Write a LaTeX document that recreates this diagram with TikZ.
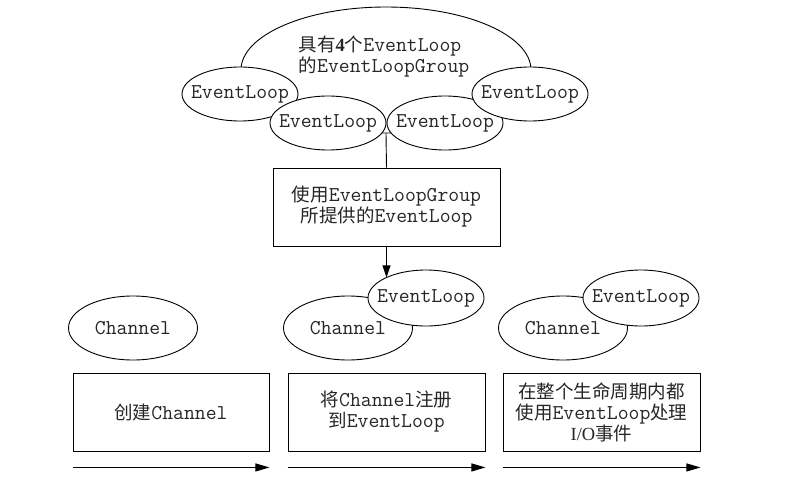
\documentclass[tikz,border=0pt]{standalone}
\usepackage{fontspec}
\setmainfont{Liberation Serif}
\setmonofont[Scale=1.14]{Latin Modern Mono}
\newfontfamily\cjk{Noto Sans CJK SC}
\usepackage{tikz}
\usetikzlibrary{shapes.geometric, arrows.meta, positioning}
\newcommand{\zh}[1]{{\cjk #1}}

\begin{document}
\begin{tikzpicture}[x=1pt, y=-1pt, line width=0.9pt,
    font=\fontsize{18.5}{21}\selectfont\ttfamily, text=black!85,
    el/.style={ellipse, draw, fill=white, inner sep=0pt, minimum width=116pt, minimum height=54pt, label=center:{#1}},
    ch/.style={ellipse, draw, fill=white, inner sep=0pt, minimum width=129pt, minimum height=64pt, label=center:{#1}},
    box/.style={rectangle, draw, align=center, minimum width=197pt, minimum height=78pt},
    flow/.style={-{Triangle[length=14pt, width=8pt]}}]
   \useasboundingbox (0,0) rectangle (798,477);

   % EventLoopGroup
   \node[ellipse, draw, minimum width=290pt, minimum height=126pt] (grp) at (386,70) {};
   \node[align=left] (grptxt) at (384,57) {\zh{具有}{\rmfamily\bfseries 4}\zh{个}EventLoop\\\zh{的}EventLoopGroup};
   \node[box, minimum width=227pt] (usegrp) at (386.5,207) {\zh{使用}EventLoopGroup\\\zh{所提供的}EventLoop};
   \draw (grp.south) -- (usegrp.north);

   % 4 个 EventLoop
   \node[el=EventLoop] (el1) at (240,94) {};
   \node[el=EventLoop] (el2) at (328,123) {};
   \node[el=EventLoop] (el3) at (445,123) {};
   \node[el=EventLoop] (el4) at (530,94) {};

   % Channel
   \node[ch=Channel] (ch1) at (133,328) {};
   \node[ch=Channel] (ch2) at (348,328) {};
   \node[el=EventLoop, minimum height=56pt] (el5) at (426,298) {};
   \node[ch=Channel] (ch3) at (563,328) {};
   \node[el=EventLoop, minimum height=56pt] (el6) at (641,298) {};

   \draw[-{Triangle[length=12pt, width=8pt]}] (usegrp.south) -- (usegrp.south |- el5.153);

   % 三个阶段
   \node[box, minimum width=196pt] (s1) at (171,412) {\zh{创建}Channel};
   \node[box] (s2) at (386.5,412) {\zh{将}Channel\zh{注册}\\\zh{到}EventLoop};
   \node[box] (s3) at (601.5,412) {\zh{在整个生命周期内都}\\\zh{使用}EventLoop\zh{处理}\\{\rmfamily I/O}\zh{事件}};

   \foreach \s in {s1,s2,s3}
     \draw[flow] ([yshift=-16pt]\s.south west) -- ([yshift=-16pt]\s.south east);
\end{tikzpicture}
\end{document}
